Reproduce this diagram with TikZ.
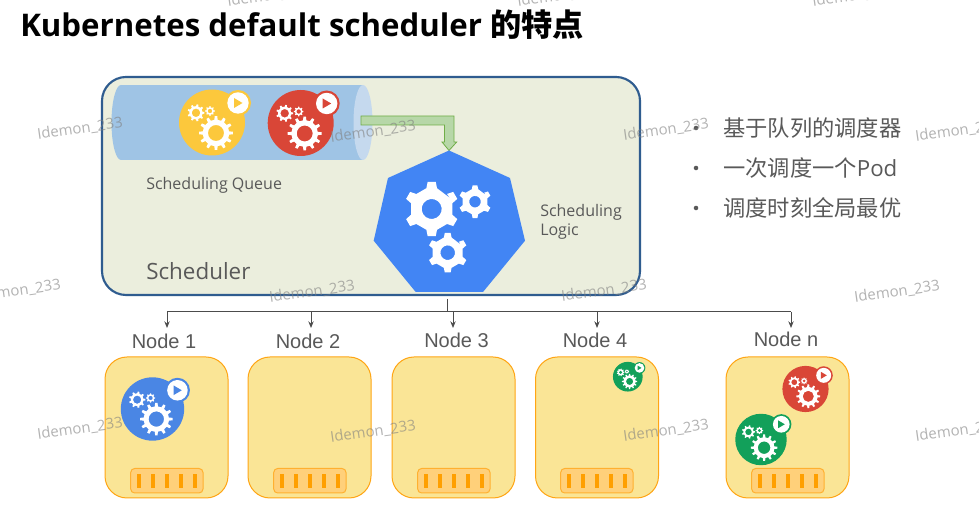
\documentclass[tikz,border=0pt]{standalone}
\usepackage{fontspec}
\setmainfont{Open Sans}
\newfontfamily\cjk{Noto Sans CJK SC}
\newfontfamily\lib{Liberation Sans}
\usetikzlibrary{arrows.meta}
\definecolor{boxfill}{HTML}{EBEEDD}
\definecolor{boxline}{HTML}{2F5C8F}
\definecolor{podyellow}{HTML}{FCC83C}
\definecolor{podred}{HTML}{D94637}
\definecolor{podblue}{HTML}{4A86E4}
\definecolor{podgreen}{HTML}{12A05A}
\definecolor{hept}{HTML}{4285F4}
\definecolor{txt}{HTML}{595959}
\definecolor{hostfill}{HTML}{FAE596}
\definecolor{hostline}{HTML}{FFA514}
\definecolor{slotfill}{HTML}{FFD07A}
\definecolor{slotline}{HTML}{FFB030}
\definecolor{slotbar}{HTML}{FF9F00}
\definecolor{cyl}{HTML}{9FC4E5}
\definecolor{cylend}{HTML}{C5D9EE}
\definecolor{arrowfill}{HTML}{B7D7A8}
\definecolor{arrowline}{HTML}{70AD47}
\tikzset{
  hostbox/.style={draw=hostline,fill=hostfill,line width=.75pt,rounded corners=16.5pt,minimum width=92.25pt,minimum height=105.75pt,inner sep=0pt},
  nodelabel/.style={font=\lib\fontsize{15}{18}\selectfont,text=txt,inner sep=0pt},
  bullettext/.style={font=\cjk\fontsize{16.7}{20}\selectfont,text=txt,anchor=west,inner sep=0pt},
  bulletdot/.style={circle,fill=txt,inner sep=0pt,minimum size=3.4pt},
  smalllabel/.style={font=\fontsize{12}{14.25}\selectfont,text=txt,inner sep=0pt,align=left},
  watermark/.style={font=\fontsize{11.2}{14}\selectfont,text=gray,text opacity=.6,rotate=8,inner sep=0pt},
  bus/.style={draw=black!70,line width=.75pt},
  busarrow/.style={bus,-{Stealth[length=5pt,width=4pt]}}
}
\newcommand\mygear[6]{%
  \begin{scope}[shift={(#1,#2)},rotate=#6]
    \fill[white,even odd rule] (0:#3*.78)
      \foreach \i in {1,...,#4}{
        -- ({(\i-1)*360/#4-.24*360/#4}:#3*.78)
        -- ({(\i-1)*360/#4-.14*360/#4}:#3)
        -- ({(\i-1)*360/#4+.14*360/#4}:#3)
        -- ({(\i-1)*360/#4+.24*360/#4}:#3*.78)
      } -- cycle
      (0,0) circle[radius=#5];
  \end{scope}}
\newcommand\mypod[4]{%
  \begin{scope}[shift={(#1,#2)},scale=#3]
    \fill[#4] (0,0) circle[radius=33];
    \fill[#4] (26,-19.5) circle[radius=13];
    \fill[white] (26,-19.5) circle[radius=10.7];
    \fill[#4] (22,-24.5) -- (30.5,-19.5) -- (22,-14.5) -- cycle;
    \mygear{4}{10.5}{17}{12}{8}{0}
    \mygear{-16}{-9.7}{8.5}{9}{4.3}{0}
    \mygear{-2}{-11.5}{4.8}{8}{2.3}{0}
  \end{scope}}
\newcommand\myslots[1]{%
  \begin{scope}[shift={(#1,0)}]
    \draw[draw=slotline,fill=slotfill,line width=.75pt,rounded corners=3pt] (25.7,468.5) rectangle (98,493);
    \foreach \d in {34,48,62,76,90}{\fill[slotbar] (\d-2,474) rectangle (\d+2,488);}
  \end{scope}}
\begin{document}
\begin{tikzpicture}[x=.75pt,y=-.75pt]
\useasboundingbox (0,0) rectangle (979,530);
\fill[white] (0,0) rectangle (979,530);
% title
\node[anchor=base west,inner sep=0pt,font=\bfseries\fontsize{23.4}{28}\selectfont] (title) at (20,37) {Kubernetes default scheduler {\cjk\bfseries 的特点}};
% scheduler box
\node[draw=boxline,fill=boxfill,line width=1.6pt,rounded corners=18pt,minimum width=403.5pt,minimum height=163.5pt,inner sep=0pt] (sched) at (371,186) {};
% queue cylinder
\fill[cyl] (121,122.5) ellipse[x radius=9.5,y radius=37.5];
\fill[cyl] (121,85) rectangle (363,160);
\fill[cylend] (363,122.5) ellipse[x radius=9.5,y radius=37.5];
% arrow queue -> logic
\draw[draw=arrowline,fill=arrowfill,line width=.6pt]
  (361,116) -- (454,116) -- (454,142) -- (456.7,142) -- (449,150.5) -- (442,142) -- (444.5,142) -- (444.5,125) -- (361,125) -- cycle;
% pods in queue
\mypod{212}{122.5}{1}{podyellow}
\mypod{300.7}{123}{1}{podred}
% heptagon
\fill[hept] (449,150.5) -- (510,178) -- (525,240.7) -- (483,292) -- (415.7,292) -- (373.7,240.7) -- (388,178) -- cycle;
\mygear{431.7}{209}{27.5}{6}{10}{30}
\mygear{475}{201.7}{16.5}{6}{5.8}{30}
\mygear{447.7}{252.7}{20}{6}{7.3}{30}
% scheduler labels
\node[smalllabel,anchor=base west] (q) at (146,190) {Scheduling Queue};
\node[smalllabel,anchor=north west] (l) at (540,204) {Scheduling\\Logic};
\node[anchor=base west,inner sep=0pt,font=\fontsize{16.8}{20}\selectfont,text=txt] (s) at (146,280) {Scheduler};
% bullets
\foreach \yy/\tt [count=\k] in {128/基于队列的调度器,168/{一次调度一个{\fontspec{Open Sans}Pod}},208/调度时刻全局最优}{
  \node[bulletdot] (dot\k) at (696,\yy) {};
  \node[bullettext] (b\k) at (723,\yy) {\tt};
}
% bus
\coordinate (root) at (447.5,299);
\coordinate (junction) at (447.5,312);
\coordinate (busl) at (167,312);
\coordinate (busr) at (791,312);
\draw[bus] (root) -- (junction);
\draw[bus] (busl) -- (busr);
\foreach \n/\xx in {a/167,b/311,c/453,d/597,e/791}{
  \coordinate (top\n) at (\xx,312);
  \coordinate (end\n) at (\xx,328);
  \draw[busarrow] (top\n) -- (end\n);
}
% node labels
\node[nodelabel] (l1) at (164,341) {Node 1};
\node[nodelabel] (l2) at (308,341.5) {Node 2};
\node[nodelabel] (l3) at (456.5,340) {Node 3};
\node[nodelabel] (l4) at (595,340) {Node 4};
\node[nodelabel] (l5) at (786,339) {Node n};
% host boxes
\node[hostbox] (h1) at (166.5,427.5) {};
\node[hostbox] (h2) at (309.5,427.5) {};
\node[hostbox] (h3) at (453.5,427.5) {};
\node[hostbox] (h4) at (597,427.5) {};
\node[hostbox] (h5) at (787.5,427.5) {};
\myslots{105}\myslots{248}\myslots{392}\myslots{535}\myslots{726}
% placed pods
\mypod{152.5}{409}{.96}{podblue}
\mypod{627.8}{376.7}{.45}{podgreen}
\mypod{805.5}{389}{.7}{podred}
\mypod{761}{439.5}{.78}{podgreen}
% watermarks
\foreach \xx/\yy [count=\k] in {80/129,373/132,666/130,958/131,18/291,312/292,604/291,897/292,80/429,373/432,666/431,958/431,270/-4,560/-4,855/-4}{
  \node[watermark] (w\k) at (\xx,\yy) {Idemon\_233};
}
\end{tikzpicture}
\end{document}
